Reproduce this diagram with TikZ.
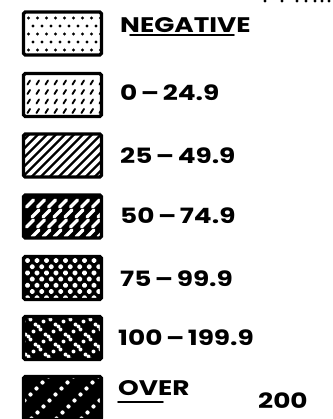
\documentclass[tikz,border=0pt]{standalone}
\usepackage{fontspec}
\newfontfamily\legfont[FakeStretch=1.25]{Poppins}
\usetikzlibrary{positioning}

\begin{document}
\begin{tikzpicture}[
  x=0.03cm, y=-0.03cm,
  legbox/.style={
    rectangle, outer sep=0pt, inner sep=0pt,
    minimum width=2.34cm, minimum height=1.29cm
  },
  frame/.style={draw=black, line width=2.8pt, rounded corners=1.5pt},
  legtext/.style={anchor=base west, inner sep=0pt,
    font=\legfont\bfseries\fontsize{18}{18}\selectfont},
  uline/.style={line width=1.6pt, line cap=round}
]
\useasboundingbox (0,0) rectangle (332,419);

% --- stray dots, top edge ---
\foreach \x in {265,282,297,306,315,322,329}
  \fill (\x,1) circle (1.3pt);

% --- legend swatches ---
\node[legbox]             (bneg)  at (62.5,33.5) {};
\node[legbox]             (b0)    at (62.5,95)   {};
\node[legbox]             (b25)   at (62.5,155.5){};
\node[legbox, fill=black] (b50)   at (62.5,216.5){};
\node[legbox, fill=black] (b75)   at (62.5,278)  {};
\node[legbox, fill=black] (b100)  at (62.5,338)  {};
\node[legbox, fill=black] (bover) at (62.5,398)  {};

% NEGATIVE: dots
\begin{scope}[shift={(bneg.north west)}]
  \clip (0,0) rectangle (78,43);
  \foreach \r in {0,...,4} \foreach \c in {0,...,8}
    \fill ({5+\c*9+mod(\r,2)*4.5},{6+\r*8}) circle (1.4pt);
\end{scope}
% 0-24.9: short ticks
\begin{scope}[shift={(b0.north west)}]
  \clip (0,0) rectangle (78,43);
  \foreach \r in {0,...,3} \foreach \c in {0,...,8}
    \draw[line width=1.6pt, line cap=round] ({4+\c*9},{11+\r*9.5}) -- ++(2.5,-4);
\end{scope}
% 25-49.9: hatching
\begin{scope}[shift={(b25.north west)}]
  \clip (0,0) rectangle (78,43);
  \foreach \x in {-48,-39,...,84}
    \draw[line width=1.9pt] (\x,45) -- ++(47,-47);
\end{scope}
% 50-74.9: white dashes
\begin{scope}[shift={(b50.north west)}]
  \clip (0,0) rectangle (78,43);
  \foreach \r in {0,...,3} \foreach \c in {0,...,7}
    \draw[white, line width=3pt, line cap=round]
      ({3+\c*11+mod(\r,2)*5.5},{12+\r*10}) -- ++(7,-7);
\end{scope}
% 75-99.9: white diamonds
\begin{scope}[shift={(b75.north west)}]
  \clip (0,0) rectangle (78,43);
  \foreach \r in {0,...,6} \foreach \c in {0,...,8}
    \fill[white, rounded corners=1pt] ({4+\c*9.5+mod(\r,2)*4.75},{4+\r*6.2})
      +(0,-3.2) -- +(3.2,0) -- +(0,3.2) -- +(-3.2,0) -- cycle;
\end{scope}
% 100-199.9: white dots on crossed diagonals
\begin{scope}[shift={(b100.north west)}]
  \clip (0,0) rectangle (78,43);
  \foreach \s in {-40,-20,...,80} \foreach \t in {0,...,9} {
    \fill[white] ({\s+\t*5},{45-\t*5}) circle (1.7pt);
    \fill[white] ({\s+2+\t*5},{-2+\t*5}) circle (1.7pt);}
\end{scope}
% over 200: white dotted diagonals
\begin{scope}[shift={(bover.north west)}]
  \clip (0,0) rectangle (78,43);
  \foreach \s in {-17,8,33,58} \foreach \t in {0,...,7}
    \fill[white] ({\s+\t*6},{42-\t*6}) circle (1.8pt);
\end{scope}

% frames
\foreach \b in {bneg,b0,b25,b50,b75,b100,bover}
  \draw[frame] (\b.north west) rectangle (\b.south east);

% --- legend texts ---
\node[legtext] (tneg)  at (120,32)  {NEGATIVE};
\node[legtext] (t0)    at (120,100) {0\,–\,24.9};
\node[legtext] (t25)   at (120,163) {25\,–\,49.9};
\node[legtext] (t50)   at (120,223) {50\,–\,74.9};
\node[legtext] (t75)   at (120,286) {75\,–\,99.9};
\node[legtext] (t100)  at (118,345) {100\,–\,199.9};
\node[legtext] (tover) at (118,395) {OVER};
\node[legtext] (t200)  at (258,408) {200};

% underlines
\draw[uline] ([shift={(10,3)}]tneg.base west) -- ([shift={(-17,3)}]tneg.base east);
\draw[uline] ([shift={(0,7)}]tover.base west) -- ([shift={(-27,7)}]tover.base east);

\end{tikzpicture}
\end{document}
